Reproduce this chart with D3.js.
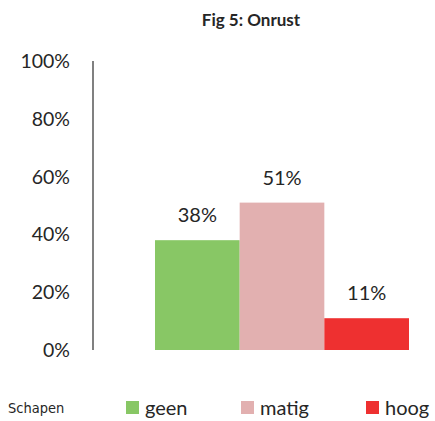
<!DOCTYPE html>
<html>
<head>
<meta charset="utf-8">
<script src="https://cdn.jsdelivr.net/npm/d3@7"></script>
<style>
    body { margin: 0; background: #ffffff; }
    svg { display: block; font-family: Lato, 'Open Sans', sans-serif; }
</style>
</head>
<body>
<div id="chart"></div>
<script>
// Fig 5: Onrust - share of sheep per level
const categories = ['geen', 'matig', 'hoog'];
const values = [0.38, 0.51, 0.11];
const colors = ['#88c765', '#e2b0b0', '#ee3030'];
const yTicks = [0, 0.2, 0.4, 0.6, 0.8, 1.0];
const seriesName = 'Schapen';

const width = 435;
const height = 421;

const svg = d3.select('#chart')
    .append('svg')
    .attr('width', width)
    .attr('height', height);

// Scales
const xScale = d3.scaleBand()
    .domain(categories)
    .range([155, 409])
    .padding(0);

const yScale = d3.scaleLinear()
    .domain([0, 1])
    .range([350, 61]);

// Title
svg.append('text')
    .attr('x', 251)
    .attr('y', 26)
    .attr('text-anchor', 'middle')
    .style('font-size', '17px')
    .style('font-weight', 'bold')
    .style('fill', '#262626')
    .text('Fig 5: Onrust');

// Y axis line
svg.append('line')
    .attr('x1', 93)
    .attr('x2', 93)
    .attr('y1', yScale(1))
    .attr('y2', yScale(0))
    .style('stroke', '#808080')
    .style('stroke-width', 2);

// Y tick labels
svg.selectAll('.y-tick')
    .data(yTicks)
    .enter()
    .append('text')
    .attr('class', 'y-tick')
    .attr('x', 70)
    .attr('y', d => yScale(d) + 7)
    .attr('text-anchor', 'end')
    .style('font-size', '19.5px')
    .style('fill', '#262626')
    .text(d => d3.format('.0%')(d));

// Bars
svg.selectAll('.bar')
    .data(values)
    .enter()
    .append('rect')
    .attr('class', 'bar')
    .attr('x', (d, i) => xScale(categories[i]))
    .attr('y', d => yScale(d))
    .attr('width', xScale.bandwidth())
    .attr('height', d => yScale(0) - yScale(d))
    .attr('fill', (d, i) => colors[i]);

// Value labels
svg.selectAll('.value-label')
    .data(values)
    .enter()
    .append('text')
    .attr('class', 'value-label')
    .attr('x', (d, i) => xScale(categories[i]) + xScale.bandwidth() / 2)
    .attr('y', d => yScale(d) - 18)
    .attr('text-anchor', 'middle')
    .style('font-size', '20px')
    .style('fill', '#262626')
    .text(d => d3.format('.0%')(d));

// Legend
svg.append('text')
    .attr('x', 8)
    .attr('y', 413)
    .style('font-size', '14.5px')
    .style('font-family', "'Liberation Sans Narrow', 'DejaVu Sans Condensed', sans-serif")
    .style('fill', '#262626')
    .text(seriesName);

const legendX = [126, 241, 366];

const legendRow = svg.selectAll('.legend')
    .data(categories)
    .enter()
    .append('g')
    .attr('class', 'legend')
    .attr('transform', (d, i) => `translate(${legendX[i]}, 401)`);

legendRow.append('rect')
    .attr('width', 13)
    .attr('height', 13)
    .attr('fill', (d, i) => colors[i]);

legendRow.append('text')
    .attr('x', 19)
    .attr('y', 14)
    .style('font-size', '20px')
    .style('fill', '#262626')
    .text(d => d);
</script>
</body>
</html>
